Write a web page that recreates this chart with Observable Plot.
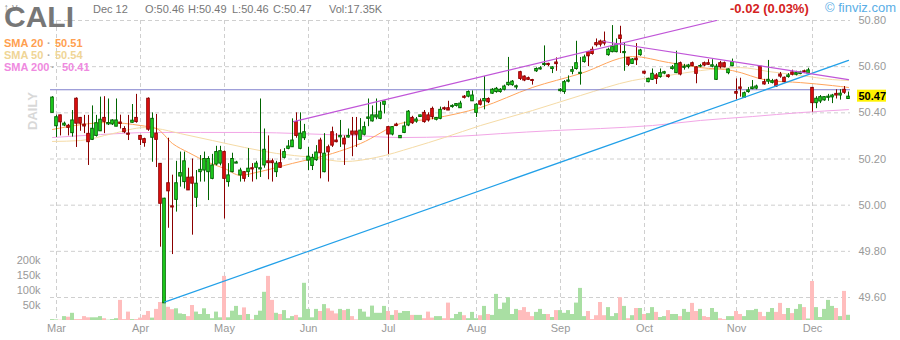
<!DOCTYPE html>
<html><head><meta charset="utf-8">
<script src="https://cdn.jsdelivr.net/npm/d3@7"></script>
<script src="https://cdn.jsdelivr.net/npm/@observablehq/plot@0.6"></script>
<style>
body{margin:0;background:#fff;}
#wrap{position:relative;width:900px;height:340px;overflow:hidden;background:#fff}
#wrap svg{position:absolute;left:0;top:0}
</style></head><body><div id="wrap"></div>
<script>
const F = "'Liberation Sans', Arial, Helvetica, sans-serif";
// ---- data (trading-day index 0 = Feb 28 ... 199 = Dec 12) ----
const monthIdx = [1,22,43,64,84,106,127,148,171,190];
const monthLabels = ["Mar","Apr","May","Jun","Jul","Aug","Sep","Oct","Nov","Dec"];
const priceTicks = [49.6,49.8,50.0,50.2,50.4,50.6,50.8];
const volTicks = [50,100,150,200];
const open = [50.40,50.342,50.389,50.345,50.344,50.312,50.461,50.378,50.349,50.309,
 50.283,50.30,50.32,50.378,50.35,50.35,50.34,50.358,50.33,50.31,
 50.357,50.378,50.30,50.286,50.461,50.292,50.31,50.179,49.575,50.095,
 49.995,50.023,50.124,50.10,50.119,50.12,50.032,50.143,50.15,50.143,
 50.114,50.176,50.18,50.23,50.10,50.143,50.18,50.129,50.143,50.143,
 50.16,50.162,50.155,50.172,50.19,50.19,50.143,50.182,50.205,50.244,
 50.251,50.36,50.244,50.29,50.193,50.17,50.195,50.28,50.143,50.251,
 50.316,50.28,50.294,50.288,50.293,50.319,50.319,50.283,50.305,50.374,
 50.363,50.38,50.374,50.435,50.338,50.306,50.349,50.29,50.313,50.345,
 50.378,50.362,50.382,50.40,50.389,50.417,50.37,50.374,50.42,50.42,
 50.425,50.43,50.42,50.47,50.47,50.45,50.40,50.45,50.45,50.46,
 50.483,50.49,50.49,50.50,50.52,50.52,50.51,50.576,50.557,50.55,
 50.542,50.58,50.588,50.607,50.612,50.59,50.618,50.494,50.49,50.535,
 50.578,50.59,50.57,50.62,50.663,50.673,50.702,50.709,50.709,50.65,
 50.663,50.663,50.735,50.66,50.638,50.612,50.635,50.65,50.578,50.533,
 50.543,50.562,50.555,50.57,50.562,50.59,50.572,50.615,50.595,50.598,
 50.615,50.597,50.60,50.615,50.615,50.60,50.543,50.615,50.615,50.572,
 50.602,50.49,50.51,50.465,50.49,50.503,50.505,50.60,50.533,50.535,
 50.53,50.54,50.566,50.552,50.555,50.575,50.565,50.568,50.58,50.57,
 50.508,50.442,50.449,50.454,50.465,50.467,50.482,50.475,50.50,50.46];
const high = [50.47,50.39,50.39,50.36,50.35,50.41,50.465,50.38,50.389,50.389,
 50.43,50.389,50.468,50.47,50.46,50.37,50.46,50.39,50.34,50.389,
 50.436,50.48,50.30,50.29,50.465,50.40,50.393,50.18,50.03,50.29,
 50.13,50.19,50.23,50.23,50.16,50.20,50.15,50.215,50.23,50.21,
 50.22,50.255,50.255,50.235,50.18,50.225,50.19,50.16,50.145,50.245,
 50.18,50.19,50.46,50.33,50.30,50.20,50.19,50.24,50.245,50.28,
 50.374,50.40,50.40,50.35,50.25,50.22,50.258,50.29,50.31,50.26,
 50.338,50.31,50.367,50.30,50.33,50.38,50.38,50.375,50.36,50.46,
 50.43,50.46,50.445,50.45,50.34,50.34,50.355,50.30,50.36,50.41,
 50.385,50.38,50.39,50.41,50.40,50.425,50.38,50.425,50.425,50.45,
 50.435,50.44,50.45,50.475,50.495,50.495,50.44,50.46,50.557,50.465,
 50.505,50.51,50.505,50.52,50.64,50.54,50.52,50.58,50.56,50.555,
 50.545,50.595,50.60,50.69,50.615,50.60,50.638,50.505,50.54,50.56,
 50.60,50.71,50.64,50.65,50.665,50.685,50.72,50.715,50.75,50.68,
 50.778,50.72,50.775,50.70,50.64,50.635,50.70,50.675,50.58,50.55,
 50.59,50.57,50.59,50.58,50.565,50.605,50.667,50.62,50.61,50.61,
 50.62,50.60,50.61,50.62,50.63,50.63,50.61,50.623,50.62,50.59,
 50.633,50.547,50.55,50.49,50.51,50.54,50.52,50.60,50.545,50.627,
 50.545,50.545,50.575,50.555,50.57,50.585,50.58,50.58,50.585,50.593,
 50.51,50.47,50.475,50.47,50.48,50.48,50.50,50.50,50.514,50.49];
const low = [50.40,50.293,50.30,50.34,50.30,50.295,50.25,50.32,50.31,50.172,
 50.28,50.295,50.32,50.31,50.345,50.345,50.34,50.33,50.31,50.28,
 50.355,50.355,50.258,50.251,50.32,50.186,50.163,49.818,49.575,49.90,
 49.786,49.97,50.078,50.07,50.064,49.87,49.99,50.10,50.10,50.02,
 50.11,50.17,50.17,49.94,50.078,50.14,50.18,50.10,50.10,50.12,
 50.10,50.11,50.12,50.16,50.11,50.10,50.12,50.16,50.20,50.24,
 50.25,50.29,50.24,50.28,50.15,50.15,50.19,50.114,50.14,50.10,
 50.25,50.27,50.25,50.172,50.29,50.21,50.25,50.28,50.30,50.34,
 50.36,50.37,50.37,50.395,50.22,50.30,50.34,50.29,50.31,50.34,
 50.35,50.355,50.38,50.355,50.36,50.37,50.365,50.37,50.41,50.41,
 50.42,50.425,50.42,50.46,50.465,50.45,50.38,50.43,50.413,50.44,
 50.48,50.485,50.485,50.495,50.515,50.515,50.50,50.54,50.535,50.54,
 50.52,50.575,50.585,50.60,50.60,50.57,50.58,50.49,50.48,50.53,
 50.565,50.585,50.52,50.615,50.60,50.65,50.685,50.685,50.69,50.645,
 50.66,50.66,50.657,50.58,50.60,50.61,50.605,50.645,50.565,50.53,
 50.54,50.523,50.55,50.565,50.55,50.585,50.57,50.56,50.585,50.59,
 50.60,50.526,50.595,50.60,50.605,50.595,50.54,50.59,50.595,50.565,
 50.60,50.456,50.468,50.465,50.485,50.50,50.50,50.545,50.52,50.523,
 50.525,50.51,50.55,50.53,50.55,50.56,50.56,50.565,50.57,50.565,
 50.403,50.418,50.44,50.45,50.45,50.44,50.46,50.455,50.48,50.46];
const close = [50.466,50.381,50.359,50.353,50.335,50.367,50.353,50.353,50.341,50.273,
 50.331,50.355,50.37,50.361,50.356,50.367,50.367,50.352,50.316,50.305,
 50.366,50.36,50.283,50.269,50.327,50.374,50.283,50.006,50.028,50.06,
 49.99,50.095,50.139,50.19,50.064,50.093,50.093,50.153,50.20,50.20,
 50.172,50.23,50.234,50.114,50.129,50.20,50.185,50.15,50.114,50.158,
 50.155,50.18,50.16,50.24,50.182,50.182,50.18,50.162,50.23,50.254,
 50.28,50.30,50.31,50.316,50.21,50.205,50.228,50.225,50.223,50.229,
 50.258,50.273,50.30,50.263,50.30,50.305,50.305,50.323,50.338,50.38,
 50.389,50.389,50.405,50.449,50.306,50.338,50.343,50.30,50.341,50.405,
 50.355,50.371,50.389,50.36,50.367,50.381,50.378,50.413,50.415,50.41,
 50.43,50.438,50.44,50.465,50.49,50.475,50.435,50.435,50.46,50.446,
 50.50,50.504,50.50,50.514,50.53,50.535,50.515,50.547,50.54,50.543,
 50.538,50.59,50.593,50.612,50.607,50.597,50.611,50.50,50.533,50.54,
 50.585,50.615,50.572,50.64,50.645,50.655,50.693,50.695,50.70,50.673,
 50.687,50.695,50.72,50.662,50.608,50.631,50.628,50.67,50.57,50.547,
 50.569,50.547,50.572,50.576,50.555,50.597,50.612,50.566,50.60,50.605,
 50.602,50.569,50.603,50.605,50.608,50.606,50.60,50.597,50.597,50.588,
 50.62,50.483,50.504,50.485,50.497,50.51,50.514,50.547,50.523,50.543,
 50.537,50.514,50.557,50.533,50.562,50.565,50.572,50.575,50.575,50.584,
 50.442,50.461,50.468,50.468,50.47,50.475,50.475,50.483,50.487,50.47];
const volumeK = [3,2,1,13,11,24,3,3,13,9,
 9,9,13,6,1,3,6,67,3,28,
 3,3,8,17,30,8,37,60,62,44,
 36,39,22,20,13,50,28,20,39,20,
 6,28,9,147,9,31,47,17,42,20,
 2,17,31,94,147,67,24,20,33,6,
 13,17,9,124,37,9,37,30,53,39,
 31,22,37,33,37,13,2,37,28,11,
 48,24,24,47,30,17,33,24,30,30,
 17,17,17,6,28,8,13,13,6,58,
 6,20,27,16,6,27,6,16,47,20,
 17,87,37,58,76,20,37,33,43,27,
 13,27,37,20,20,10,33,33,24,33,
 20,58,107,13,30,3,16,60,16,43,
 13,23,76,47,6,16,40,40,20,23,
 43,27,10,13,33,20,20,13,37,27,
 57,30,37,13,10,40,27,6,3,13,
 13,30,20,13,33,33,37,27,13,27,
 40,27,57,20,40,23,37,53,43,5,
 130,43,10,37,67,47,40,13,97,17.35];
// moving averages [day index, value]
const sma20 = [[0,50.328],[14,50.358],[22,50.345],[26,50.332],[30,50.267],[34,50.228],[39,50.185],[43,50.159],[47,50.129],[51,50.142],[60,50.181],[70,50.224],[77,50.267],[87,50.354],[95,50.375],[107,50.423],[120,50.51],[132,50.57],[145,50.644],[154,50.618],[162,50.596],[170,50.583],[179,50.54],[187,50.531],[195,50.518],[199,50.51]];
const sma50 = [[0,50.276],[7,50.28],[15,50.31],[23,50.336],[26,50.332],[32,50.31],[40,50.28],[48,50.25],[56,50.224],[65,50.207],[73,50.189],[81,50.207],[90,50.25],[98,50.293],[107,50.345],[120,50.41],[132,50.475],[145,50.54],[154,50.562],[162,50.583],[172,50.596],[179,50.579],[187,50.562],[195,50.544],[199,50.54]];
const sma200 = [[0,50.293],[12,50.306],[25,50.315],[37,50.315],[50,50.315],[62,50.31],[75,50.302],[87,50.293],[100,50.297],[112,50.31],[125,50.323],[137,50.332],[150,50.345],[162,50.367],[175,50.384],[187,50.401],[199,50.414]];
const hLevel = [50.50];
const trendBlue = [[28,49.58],[199,50.627]];
const trendUpper = [[60.25,50.362],[166,50.80]];
const trendDown = [[137.75,50.709],[199,50.544]];
const header = {ticker:"CALI", date:"Dec 12", o:"50.46", h:"50.49", l:"50.46", c:"50.47", vol:"17.35K", chg:"-0.02 (0.03%)"};
const smaLegend = [["SMA 20","50.51","#ff9f50"],["SMA 50","50.54","#efd596"],["SMA 200","50.41","#ef8ae0"]];

const days = open.map((o,i)=>({i,o,h:Math.max(high[i],o,close[i]),l:Math.min(low[i],o,close[i]),c:close[i],v:volumeK[i],up:close[i]>=o}));

const W=900,H=340;
const base = {width:W,height:H,marginLeft:50,marginRight:50,marginTop:20,marginBottom:20,
  style:{background:"transparent",fontFamily:F,overflow:"visible"}};
const xDom=[-0.5,199.5], yDom=[49.5004,50.80];
const grid="#cfcfcf";

const gridPlot = Plot.plot({...base,
  x:{domain:xDom,axis:null}, y:{domain:yDom,axis:null},
  marks:[
    Plot.ruleY(priceTicks,{stroke:grid,strokeDasharray:"4,3"}),
    Plot.ruleX(monthIdx,{stroke:grid,strokeDasharray:"4,3"}),
    Plot.axisY(priceTicks,{anchor:"right",tickSize:0,tickPadding:8,tickFormat:d=>d.toFixed(2),fill:"#999",fontSize:11}),
    Plot.axisX(monthIdx,{anchor:"bottom",tickSize:0,tickPadding:4,tickFormat:d=>monthLabels[monthIdx.indexOf(d)],fill:"#999",fontSize:11})
  ]});

const volPlot = Plot.plot({...base,
  x:{domain:xDom,axis:null}, y:{domain:[0,1000],axis:null},
  marks:[
    Plot.rect(days,{x1:d=>d.i-0.5,x2:d=>d.i+0.5,y1:0,y2:"v",fill:d=>d.up?"#a9dfa3":"#ffbdbd"}),
    Plot.axisY(volTicks,{anchor:"left",tickSize:0,tickPadding:10,tickFormat:d=>d+"k",fill:"#999",fontSize:11})
  ]});

const pricePlot = Plot.plot({...base,
  x:{domain:xDom,axis:null}, y:{domain:yDom,axis:null},
  marks:[
    Plot.line(sma200,{x:d=>d[0],y:d=>d[1],stroke:"#f2a6e6",strokeWidth:1,curve:"monotone-x"}),
    Plot.line(sma50,{x:d=>d[0],y:d=>d[1],stroke:"#f5dba6",strokeWidth:1,curve:"monotone-x"}),
    Plot.line(sma20,{x:d=>d[0],y:d=>d[1],stroke:"#ffa55c",strokeWidth:1,curve:"monotone-x"}),
    Plot.ruleY(hLevel,{stroke:"#7f7fcc",strokeWidth:1}),
    Plot.ruleX(days,{x:"i",y1:"l",y2:"h",stroke:d=>d.up?"#006400":"#8b0000",strokeWidth:1}),
    Plot.rect(days,{x1:d=>d.i-0.32,x2:d=>d.i+0.32,
      y1:d=>Math.min(d.o,d.c)-(Math.abs(d.o-d.c)<0.003?0.0015:0),
      y2:d=>Math.max(d.o,d.c)+(Math.abs(d.o-d.c)<0.003?0.0015:0),
      fill:d=>d.up?"#22e022":"#ee1111",stroke:d=>d.up?"#006400":"#8b0000",strokeWidth:1}),
    Plot.line(trendBlue,{x:d=>d[0],y:d=>d[1],stroke:"#22a0e8",strokeWidth:1.2,clip:true}),
    Plot.line(trendUpper,{x:d=>d[0],y:d=>d[1],stroke:"#c055d8",strokeWidth:1.2,clip:true}),
    Plot.line(trendDown,{x:d=>d[0],y:d=>d[1],stroke:"#c055d8",strokeWidth:1.2,clip:true})
  ]});

const wrap=document.getElementById("wrap");
wrap.append(gridPlot, volPlot, pricePlot);

// annotations
const ys = v=>pricePlot.scale("y").apply(v);
const ann = d3.create("svg").attr("width",W).attr("height",H).style("font-family",F);
function txt(x,y,s,o={}){const t=ann.append("text").attr("x",x).attr("y",y).text(s)
  .attr("font-size",o.size||11).attr("fill",o.fill||"#777").attr("font-weight",o.bold?"bold":"normal");
  if(o.anchor) t.attr("text-anchor",o.anchor); return t;}
txt(4,26.5,header.ticker,{size:30,bold:true,fill:"#777"});
txt(93,12.5,header.date,{fill:"#777"});
txt(145,12.5,"O:"+header.o,{fill:"#777"});
txt(188,12.5,"H:"+header.h,{fill:"#777"});
txt(232,12.5,"L:"+header.l,{fill:"#777"});
txt(273,12.5,"C:"+header.c,{fill:"#777"});
txt(329,12.5,"Vol:"+header.vol,{fill:"#777"});
txt(730,13,header.chg,{size:13,bold:true,fill:"#d42222"});
txt(825,12,"© finviz.com",{size:13,fill:"#5aaee6"});
smaLegend.forEach(([n,v,c],k)=>{
  const y=47+k*12.2, dotX = k===2?51:47, valX = k===2?62:55;
  txt(4,y,n,{bold:true,fill:c});
  txt(dotX,y,"·",{bold:true,fill:"#aaa"});
  txt(valX,y,v,{bold:true,fill:c});
});
ann.append("text").attr("x",37).attr("y",111).attr("transform","rotate(-90,37,111)").attr("text-anchor","middle")
  .attr("font-size",13).attr("font-weight","bold").attr("fill","#d8d8d8").text("DAILY");
const yc = ys(close[199]);
ann.append("rect").attr("x",857).attr("y",yc-6.5).attr("width",29).attr("height",12).attr("fill","#fff200");
txt(858.5,yc+4,close[199].toFixed(2),{bold:true,fill:"#000"});
wrap.append(ann.node());
</script></body></html>
